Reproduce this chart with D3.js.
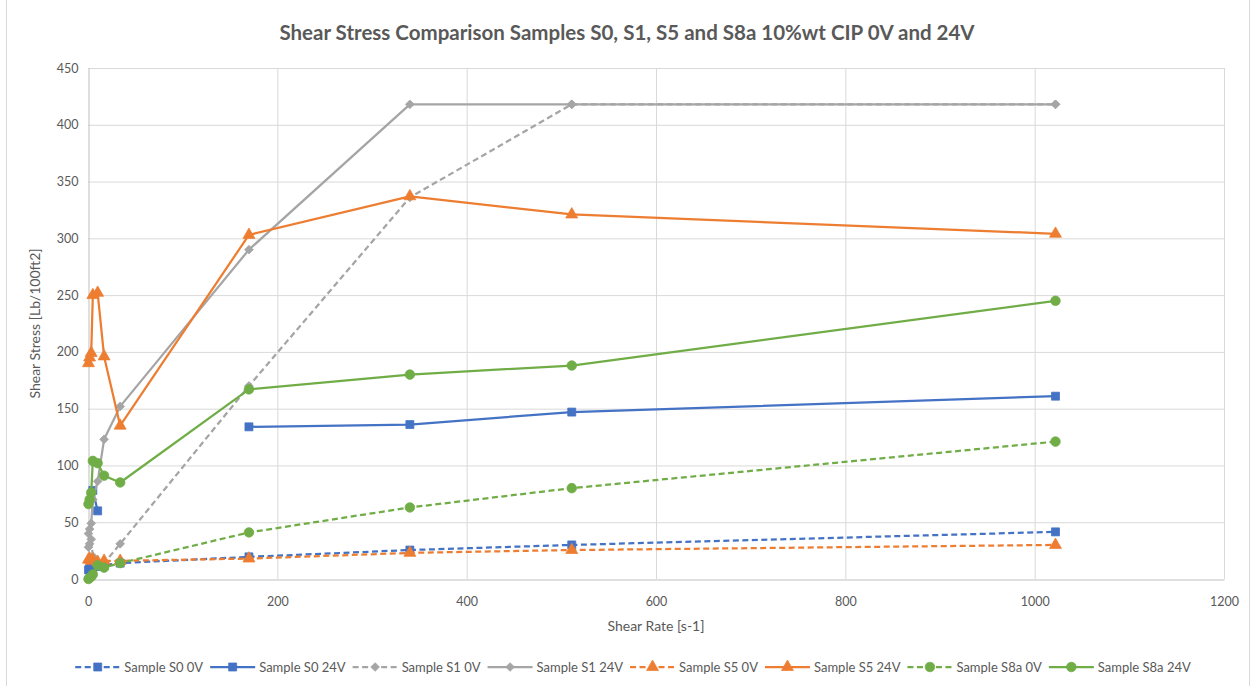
<!DOCTYPE html>
<html>
<head>
<meta charset="utf-8">
<script src="https://cdn.jsdelivr.net/npm/d3@7"></script>
<style>
  html, body { margin: 0; padding: 0; background: #fff; }
  svg { display: block; font-family: Lato, "Open Sans", sans-serif; }
</style>
</head>
<body>
<svg id="chart" width="1255" height="686"></svg>
<script>
// ---------- data ----------
const shearRate = [0.5, 1.7, 3.4, 5.1, 10.2, 17, 34, 170, 340, 511, 1022];
const s0_0V  = [8, 9, 10, 10, 11, 12, 14, 19.5, 25.5, 30, 41.5];
const s0_24V = [null, null, null, 78, 60, null, null, 134, 136, 147, 161];
const s1_0V  = [28, 31, 35, 20, 15, 14, 31, 170, 336, 418, 418];
const s1_24V = [40, 44, 49, 70, 86, 123, 152, 290, 418, 418, 418];
const s5_0V  = [17, 18, 16, 17, 15, 16, 16, 18, 23, 25.5, 30];
const s5_24V = [190, 195, 199, 250, 252, 196, 135, 303, 337, 321, 304];
const s8a_0V = [0, 1, 2, 4, 12, 10, 14, 41, 63, 80, 121];
const s8a_24V = [66, 70, 76, 104, 102, 91, 85, 167, 180, 188, 245];

const seriesNames = ["Sample S0 0V", "Sample S0 24V", "Sample S1 0V", "Sample S1 24V",
                     "Sample S5 0V", "Sample S5 24V", "Sample S8a 0V", "Sample S8a 24V"];
const seriesValues = [s0_0V, s0_24V, s1_0V, s1_24V, s5_0V, s5_24V, s8a_0V, s8a_24V];
const seriesColors = ["#4472C4", "#4472C4", "#A5A5A5", "#A5A5A5", "#ED7D31", "#ED7D31", "#70AD47", "#70AD47"];
const seriesDashed = [true, false, true, false, true, false, true, false];
const seriesMarker = ["square", "square", "diamond", "diamond", "triangle", "triangle", "circle", "circle"];

const xTicks = [0, 200, 400, 600, 800, 1000, 1200];
const yTicks = [0, 50, 100, 150, 200, 250, 300, 350, 400, 450];

const titleText = "Shear Stress Comparison Samples S0, S1, S5 and S8a 10%wt CIP 0V and 24V";
const xTitle = "Shear Rate [s-1]";
const yTitle = "Shear Stress [Lb/100ft2]";

// ---------- layout ----------
const svg = d3.select("#chart");
const L = 88, R = 1224, T = 68, B = 579;
const x = d3.scaleLinear().domain([0, 1200]).range([L, R]);
const y = d3.scaleLinear().domain([0, 450]).range([B, T]);
const textCol = "#595959";

// chart border
svg.append("rect").attr("x", 6.5).attr("y", -1).attr("width", 1243).attr("height", 688)
  .attr("fill", "none").attr("stroke", "#D9D9D9");

// gridlines
svg.append("g").selectAll("line.h").data(yTicks.slice(1)).join("line")
  .attr("x1", L).attr("x2", R).attr("y1", d => y(d) + 0.5).attr("y2", d => y(d) + 0.5)
  .attr("stroke", "#D9D9D9").attr("stroke-width", 1);
svg.append("g").selectAll("line.v").data(xTicks.slice(1)).join("line")
  .attr("y1", T).attr("y2", B).attr("x1", d => x(d) + 0.5).attr("x2", d => x(d) + 0.5)
  .attr("stroke", "#D9D9D9").attr("stroke-width", 1);

// axes
const xAxis = svg.append("g").attr("transform", `translate(0,${B + 0.5})`)
  .call(d3.axisBottom(x).tickValues(xTicks).tickSize(0).tickPadding(18).tickFormat(d3.format("d")));
const yAxis = svg.append("g").attr("transform", `translate(${L + 0.5},0)`)
  .call(d3.axisLeft(y).tickValues(yTicks).tickSize(0).tickPadding(10).tickFormat(d3.format("d")));
[xAxis, yAxis].forEach(g => {
  g.select(".domain").attr("stroke", "#BFBFBF").attr("stroke-width", 1);
  g.selectAll("text").attr("fill", textCol).style("font-size", "12.5px").style("font-family", "Lato, sans-serif");
});

// titles
svg.append("text").attr("x", 627).attr("y", 40).attr("text-anchor", "middle")
  .attr("fill", textCol).style("font-size", "20.5px").style("font-weight", "bold").text(titleText);
svg.append("text").attr("x", (L + R) / 2).attr("y", 631).attr("text-anchor", "middle")
  .attr("fill", textCol).style("font-size", "14px").text(xTitle);
svg.append("text").attr("transform", `translate(40,${(T + B) / 2}) rotate(-90)`)
  .attr("text-anchor", "middle").attr("fill", textCol).style("font-size", "14px").text(yTitle);

// marker symbols
const symbolFor = {
  square: { gen: d3.symbol().type(d3.symbolSquare).size(64), rot: 0 },
  diamond: { gen: d3.symbol().type(d3.symbolSquare).size(38), rot: 45 },
  triangle: { gen: d3.symbol().type(d3.symbolTriangle).size(62), rot: 0 },
  circle: { gen: d3.symbol().type(d3.symbolCircle).size(72), rot: 0 }
};

const line = d3.line().defined(d => d.v != null).x(d => x(d.r)).y(d => y(d.v));
const plot = svg.append("g");
seriesValues.forEach((vals, i) => {
  const pts = shearRate.map((r, k) => ({ r, v: vals[k] }));
  const sym = symbolFor[seriesMarker[i]];
  plot.append("path").datum(pts).attr("d", line)
    .attr("fill", "none").attr("stroke", seriesColors[i]).attr("stroke-width", 2.25)
    .attr("stroke-linejoin", "round")
    .attr("stroke-dasharray", seriesDashed[i] ? "6,3.5" : null);
  plot.append("g").selectAll("path").data(pts.filter(d => d.v != null)).join("path")
    .attr("d", sym.gen())
    .attr("transform", d => `translate(${x(d.r)},${y(d.v)}) rotate(${sym.rot})`)
    .attr("fill", seriesColors[i]).attr("stroke", seriesColors[i]).attr("stroke-width", 0.75);
});

// legend
const leg = svg.append("g");
const legY = 667;
let cursor = 0;
seriesNames.forEach((name, i) => {
  const sym = symbolFor[seriesMarker[i]];
  const g = leg.append("g");
  g.append("line").attr("x1", 0).attr("x2", 45).attr("y1", 0).attr("y2", 0)
    .attr("stroke", seriesColors[i]).attr("stroke-width", 2.25)
    .attr("stroke-dasharray", seriesDashed[i] ? "6,3.5" : null);
  g.append("path").attr("d", sym.gen()).attr("transform", `translate(22.5,0) rotate(${sym.rot})`)
    .attr("fill", seriesColors[i]).attr("stroke", seriesColors[i]).attr("stroke-width", 0.75);
  const t = g.append("text").attr("x", 49).attr("y", 4.6).attr("fill", textCol)
    .style("font-size", "13px").text(name);
  const w = 49 + t.node().getComputedTextLength();
  g.attr("transform", `translate(${cursor},${legY})`);
  cursor += w + 7;
});
const totalW = cursor - 7;
leg.attr("transform", `translate(${633 - totalW / 2},0)`);
</script>
</body>
</html>
